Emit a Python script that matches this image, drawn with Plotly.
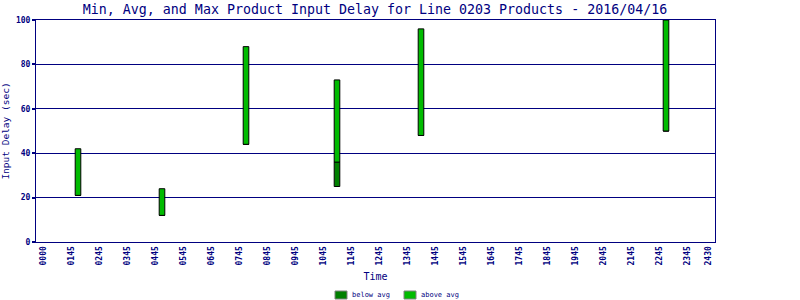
import plotly.graph_objects as go

# Data (time in hours; tick "0000" sits at 0.75 on the reference's axis)
times = [2.0, 5.0, 8.0, 11.25, 14.25, 23.0]
min_delay = [21, 12, 44, 25, 48, 50]
avg_delay = [21, 12, 44, 36, 48, 50]
max_delay = [42, 24, 88, 73, 96, 100]

tick_vals = [0.75 + i for i in range(24)] + [24.5]
tick_text = ["0000"] + ["%02d45" % h for h in range(1, 24)] + ["2430"]
y_ticks = [0, 20, 40, 60, 80, 100]

series_names = ["below avg", "above avg"]
series_colors = ["#008000", "#00BB00"]

NAVY = "#000080"
FONT = "DejaVu Sans Mono"

below_h = [a - m for a, m in zip(avg_delay, min_delay)]
above_h = [x - a for x, a in zip(max_delay, avg_delay)]

fig = go.Figure()
fig.add_trace(go.Bar(
    x=times, y=below_h, base=min_delay, name=series_names[0],
    width=0.2, marker=dict(color=series_colors[0], line=dict(color="black", width=1)),
))
fig.add_trace(go.Bar(
    x=times, y=above_h, base=avg_delay, name=series_names[1],
    width=0.2, marker=dict(color=series_colors[1], line=dict(color="black", width=1)),
))

# Manual legend (swatch + label) below the chart
legend_x = [335 / 800, 404 / 800]
shapes = []
annotations = []
for lx, name, col in zip(legend_x, series_names, series_colors):
    shapes.append(dict(
        type="rect", xref="paper", yref="paper",
        x0=(lx * 800 - 36) / 679, x1=(lx * 800 + 12 - 36) / 679,
        y0=(242 - 299) / 222, y1=(242 - 291) / 222,
        fillcolor=col, line=dict(color="#808080", width=1),
    ))
    annotations.append(dict(
        text=name, xref="paper", yref="paper",
        x=(lx * 800 + 15 - 36) / 679, xanchor="left",
        y=(242 - 295) / 222, yanchor="middle", showarrow=False,
        font=dict(family=FONT, size=7, color=NAVY),
    ))

fig.update_layout(
    width=800, height=300,
    margin=dict(l=36, r=85, t=20, b=58, autoexpand=False),
    paper_bgcolor="white", plot_bgcolor="white",
    barmode="overlay",
    showlegend=False,
    shapes=shapes,
    annotations=annotations,
    title=dict(
        text="Min, Avg, and Max Product Input Delay for Line 0203 Products - 2016/04/16",
        font=dict(family=FONT, size=13.3, color=NAVY),
        x=375 / 800, xanchor="center", xref="container",
        y=1 - 9.5 / 300, yanchor="middle", yref="container",
    ),
    xaxis=dict(
        range=[0.5, 24.75], tickmode="array", tickvals=tick_vals, ticktext=tick_text,
        tickangle=-90, tickfont=dict(family=FONT, size=8, color=NAVY, weight="bold"),
        showgrid=False, zeroline=False, showline=True, linecolor=NAVY, linewidth=1,
        mirror=True, ticks="", automargin=False,
        title=dict(text="Time", font=dict(family=FONT, size=10, color=NAVY), standoff=8),
    ),
    yaxis=dict(
        range=[0, 100], tickmode="array", tickvals=y_ticks,
        tickfont=dict(family=FONT, size=8, color=NAVY, weight="bold"),
        showgrid=True, gridcolor=NAVY, gridwidth=1, zeroline=False,
        showline=True, linecolor=NAVY, linewidth=1, mirror=True,
        ticks="outside", ticklen=3, tickcolor=NAVY, tickwidth=2, automargin=False,
        title=dict(text="Input Delay (sec)", font=dict(family=FONT, size=9.5, color=NAVY), standoff=4),
    ),
)

fig.write_html("out.html")
